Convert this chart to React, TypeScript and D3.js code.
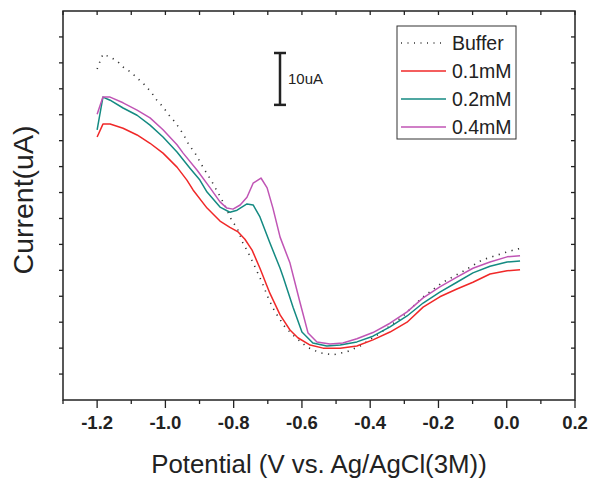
import React, {useEffect, useRef} from 'react';
import * as d3 from 'd3';

// potential (V) and current (uA), one pair of arrays per trace
const bufferV = [-1.2, -1.192, -1.183, -1.162, -1.142, -1.124, -1.101, -1.083, -1.063, -1.042, -1.025, -1.007, -0.989, -0.972, -0.957, -0.943, -0.931, -0.913, -0.89, -0.863, -0.837, -0.825, -0.805, -0.79, -0.773, -0.758, -0.737, -0.717, -0.699, -0.679, -0.65, -0.626, -0.585, -0.547, -0.509, -0.468, -0.43, -0.371, -0.307, -0.248, -0.19, -0.131, -0.072, -0.011, 0.03, 0.039];
const bufferI = [63.8, 65.2, 66.7, 66.1, 65.4, 64.2, 63.2, 62.1, 60.9, 59.4, 57.8, 56.5, 54.9, 53.6, 52.2, 50.7, 49.2, 47.6, 44.9, 42.0, 38.9, 37.4, 34.5, 33.2, 30.3, 28.5, 25.6, 22.7, 19.7, 17.0, 14.1, 12.5, 10.2, 9.1, 8.7, 9.3, 10.4, 12.9, 16.0, 19.7, 22.6, 24.7, 27.0, 28.3, 29.1, 29.2];

const mM01V = [-1.2, -1.183, -1.162, -1.124, -1.083, -1.045, -1.007, -0.966, -0.937, -0.919, -0.878, -0.84, -0.811, -0.787, -0.767, -0.746, -0.723, -0.694, -0.664, -0.635, -0.612, -0.576, -0.538, -0.488, -0.439, -0.392, -0.342, -0.292, -0.245, -0.196, -0.146, -0.099, -0.049, 0.001, 0.039];
const mM01I = [50.7, 53.2, 53.2, 52.4, 51.1, 49.5, 47.6, 44.9, 42.4, 40.5, 37.0, 34.5, 33.3, 32.4, 31.0, 28.9, 25.4, 20.6, 16.4, 13.5, 12.0, 10.6, 10.0, 10.0, 10.4, 11.6, 13.1, 15.0, 17.9, 19.9, 21.4, 22.7, 24.3, 24.9, 25.1];

const mM02V = [-1.2, -1.183, -1.162, -1.124, -1.083, -1.045, -1.007, -0.966, -0.928, -0.899, -0.878, -0.84, -0.811, -0.79, -0.761, -0.743, -0.723, -0.694, -0.664, -0.655, -0.626, -0.6, -0.568, -0.527, -0.488, -0.439, -0.392, -0.342, -0.292, -0.245, -0.196, -0.146, -0.099, -0.049, 0.001, 0.039];
const mM02I = [52.1, 58.4, 57.8, 56.3, 54.9, 53.0, 50.7, 47.8, 44.7, 42.4, 40.1, 37.2, 36.2, 36.6, 37.8, 37.6, 35.3, 30.3, 25.4, 23.7, 17.9, 13.1, 11.0, 10.4, 10.6, 11.2, 12.3, 14.1, 16.2, 18.7, 20.8, 22.7, 24.5, 25.8, 26.6, 26.8];

const mM04V = [-1.2, -1.183, -1.162, -1.124, -1.083, -1.045, -1.007, -0.966, -0.948, -0.907, -0.869, -0.84, -0.82, -0.802, -0.781, -0.761, -0.743, -0.72, -0.702, -0.685, -0.664, -0.635, -0.606, -0.582, -0.556, -0.518, -0.48, -0.439, -0.392, -0.342, -0.292, -0.245, -0.196, -0.146, -0.099, -0.049, 0.001, 0.039];
const mM04I = [55.1, 58.4, 58.4, 57.3, 55.9, 54.4, 52.1, 49.2, 47.6, 44.3, 40.9, 38.2, 37.0, 36.8, 37.6, 39.1, 41.8, 42.8, 40.9, 37.0, 31.4, 26.4, 18.9, 12.9, 11.2, 10.8, 11.0, 11.8, 13.0, 14.8, 17.0, 19.7, 21.8, 23.7, 25.4, 26.6, 27.6, 27.8];

const seriesNames = ['Buffer', '0.1mM', '0.2mM', '0.4mM'];
const seriesColors = ['#333', '#f02828', '#148a82', '#c055b5'];
const xTicks = [-1.2, -1.0, -0.8, -0.6, -0.4, -0.2, 0.0, 0.2];

export default function App() {
  const box = useRef<SVGSVGElement>(null);

  useEffect(() => {
    const width = 590;
    const height = 479;
    const margin = {left: 63, right: 15, top: 11, bottom: 79};

    const svg = d3.select(box.current);
    svg.selectAll('*').remove();
    svg.attr('width', width).attr('height', height);

    const x = d3.scaleLinear().domain([-1.3, 0.2]).range([margin.left, width - margin.right]);
    const y = d3.scaleLinear().domain([0, 75]).range([height - margin.bottom, margin.top]);

    const font = 'Liberation Sans, Arial, Helvetica, sans-serif';
    const axisColor = '#222';

    // frame
    svg.append('rect')
      .attr('x', x(-1.3)).attr('y', y(75))
      .attr('width', x(0.2) - x(-1.3)).attr('height', y(0) - y(75))
      .attr('fill', 'none').attr('stroke', axisColor).attr('stroke-width', 1.5);

    // bottom axis: majors at 0.2, minors at 0.1, pointing out
    const xMinor = d3.range(-13, 3).map(d => d / 10);
    xMinor.forEach(v => {
      const major = xTicks.some(t => Math.abs(t - v) < 1e-6);
      svg.append('line')
        .attr('x1', x(v)).attr('x2', x(v))
        .attr('y1', y(0)).attr('y2', y(0) + (major ? 8 : 4))
        .attr('stroke', axisColor).attr('stroke-width', 1.3);
      // top axis, pointing in
      svg.append('line')
        .attr('x1', x(v)).attr('x2', x(v))
        .attr('y1', y(75)).attr('y2', y(75) + 4)
        .attr('stroke', axisColor).attr('stroke-width', 1.3);
    });

    xTicks.forEach(v => {
      svg.append('text')
        .attr('x', x(v)).attr('y', 429)
        .attr('text-anchor', 'middle')
        .attr('font-family', font).attr('font-size', 18.5).attr('font-weight', 700)
        .attr('fill', '#222')
        .text(v.toFixed(1));
    });

    // left & right ticks, no labels
    d3.range(5, 75, 5).forEach(v => {
      svg.append('line')
        .attr('x1', x(-1.3) - 4).attr('x2', x(-1.3))
        .attr('y1', y(v)).attr('y2', y(v))
        .attr('stroke', axisColor).attr('stroke-width', 1.3);
      svg.append('line')
        .attr('x1', x(0.2) - 4).attr('x2', x(0.2))
        .attr('y1', y(v)).attr('y2', y(v))
        .attr('stroke', axisColor).attr('stroke-width', 1.3);
    });

    // axis titles
    svg.append('text')
      .attr('x', (x(-1.3) + x(0.2)) / 2).attr('y', 473)
      .attr('text-anchor', 'middle')
      .attr('font-family', font).attr('font-size', 25.8)
      .attr('fill', '#222')
      .text('Potential (V vs. Ag/AgCl(3M))');

    svg.append('text')
      .attr('transform', `translate(33, ${200}) rotate(-90)`)
      .attr('text-anchor', 'middle')
      .attr('font-family', font).attr('font-size', 28.5)
      .attr('fill', '#222')
      .text('Current(uA)');

    // traces
    const line = d3.line<[number, number]>()
      .x(d => x(d[0]))
      .y(d => y(d[1]));

    const traces: [number, number][][] = [
      bufferV.map((v, i) => [v, bufferI[i]]),
      mM01V.map((v, i) => [v, mM01I[i]]),
      mM02V.map((v, i) => [v, mM02I[i]]),
      mM04V.map((v, i) => [v, mM04I[i]]),
    ];

    traces.forEach((t, i) => {
      svg.append('path')
        .attr('d', line(t))
        .attr('fill', 'none')
        .attr('stroke', seriesColors[i])
        .attr('stroke-width', i === 0 ? 1.6 : 1.5)
        .attr('stroke-dasharray', i === 0 ? '1.2,5.5' : null)
        .attr('stroke-linejoin', 'round');
    });

    // 10uA scale bar
    const barX = 280;
    const barTop = 53;
    const barBottom = barTop + (y(0) - y(10));
    const bar = svg.append('g').attr('stroke', '#222').attr('stroke-width', 2.5);
    bar.append('line').attr('x1', barX).attr('x2', barX).attr('y1', barTop).attr('y2', barBottom);
    bar.append('line').attr('x1', barX - 6).attr('x2', barX + 6).attr('y1', barTop).attr('y2', barTop);
    bar.append('line').attr('x1', barX - 6).attr('x2', barX + 6).attr('y1', barBottom).attr('y2', barBottom);
    svg.append('text')
      .attr('x', barX + 8).attr('y', (barTop + barBottom) / 2 + 5)
      .attr('font-family', font).attr('font-size', 15)
      .attr('fill', '#222')
      .text('10uA');

    // legend
    const lg = svg.append('g').attr('transform', 'translate(397, 26)');
    lg.append('rect')
      .attr('width', 119).attr('height', 113)
      .attr('fill', '#fff').attr('stroke', '#333').attr('stroke-width', 1);
    seriesNames.forEach((name, i) => {
      const ry = 17 + i * 28;
      lg.append('line')
        .attr('x1', 4).attr('x2', 49)
        .attr('y1', ry).attr('y2', ry)
        .attr('stroke', seriesColors[i])
        .attr('stroke-width', i === 0 ? 1.4 : 1.5)
        .attr('stroke-dasharray', i === 0 ? '1,5.5' : null);
      lg.append('text')
        .attr('x', 55).attr('y', ry + 7)
        .attr('font-family', font).attr('font-size', 19.5)
        .attr('fill', '#222')
        .text(name);
    });
  }, []);

  return (
    <svg ref={box} style={{position: 'absolute', left: 0, top: 0}} />
  );
}
